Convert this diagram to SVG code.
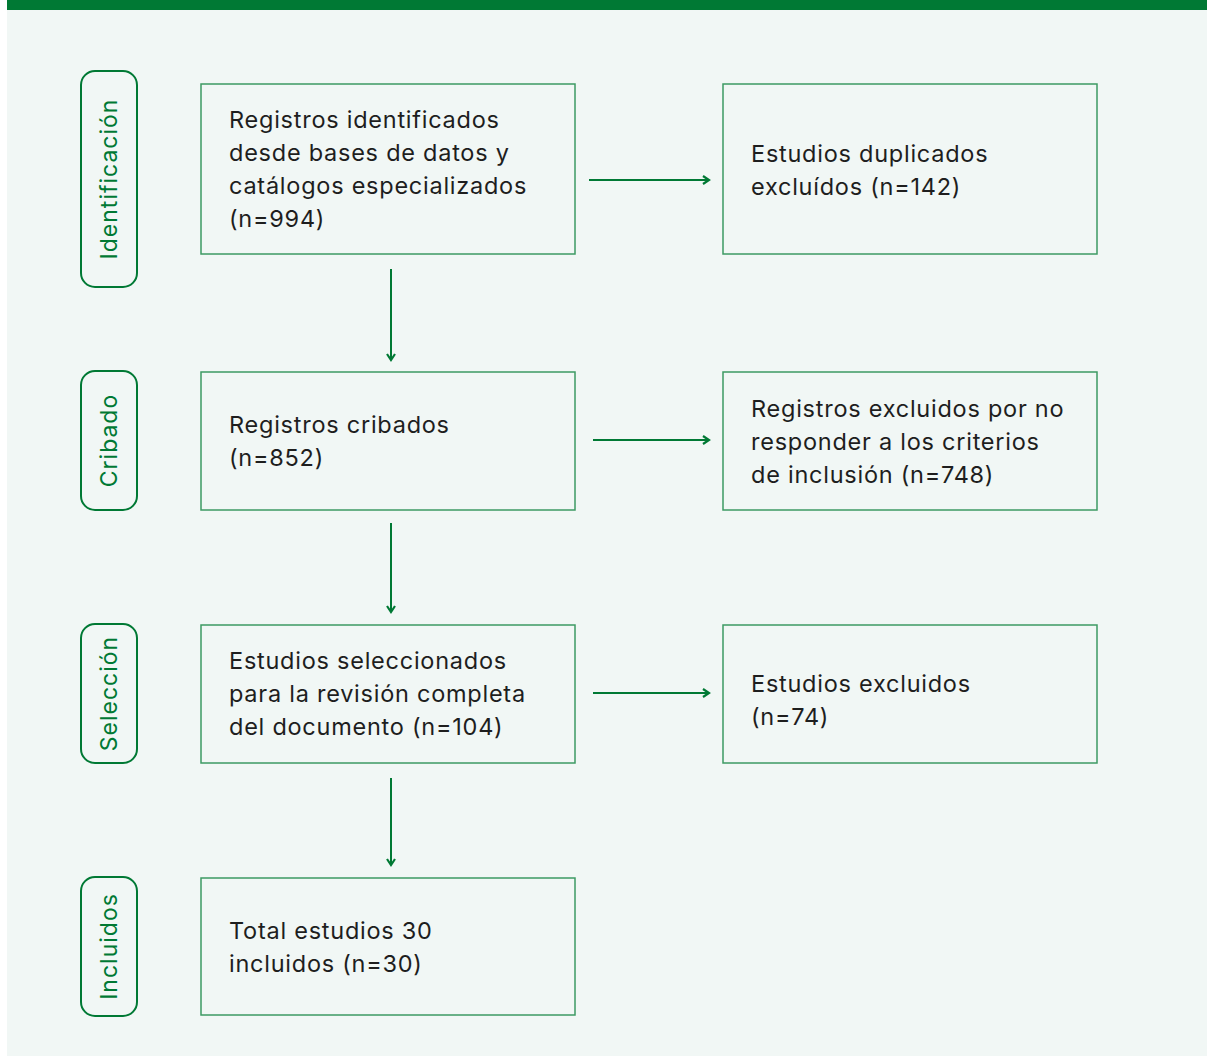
<svg xmlns="http://www.w3.org/2000/svg" width="1207" height="1056" viewBox="0 0 1207 1056">
<defs>
<style>
.box{fill:none;stroke:#3d9a63;stroke-width:1.5}
.pill{fill:none;stroke:#007934;stroke-width:2}
.t{font-family:Inter,"Noto Sans",sans-serif;font-size:23.5px;letter-spacing:0.75px;fill:#1e1e1e}
.lab{font-family:Inter,"Noto Sans",sans-serif;font-size:23px;letter-spacing:1px;fill:#007934;text-anchor:middle;dominant-baseline:central}
.con{stroke:#007934;stroke-width:2;fill:none}
</style>
<marker id="ah" viewBox="0 0 10 10" refX="8" refY="5" markerWidth="10" markerHeight="10" markerUnits="userSpaceOnUse" orient="auto">
<path d="M2,1 L8,5 L2,9" fill="none" stroke="#007934" stroke-width="2.2"/>
</marker>
</defs>
<rect x="0" y="0" width="1207" height="1056" fill="#ffffff"/>
<rect x="7" y="0" width="1200" height="1056" fill="#f1f7f5"/>
<rect x="7" y="0" width="1200" height="10" fill="#007934"/>

<g id="label-identificacion"><rect class="pill" x="81" y="71" width="56" height="216" rx="14"/><text class="lab" transform="translate(109,179) rotate(-90)">Identificación</text></g>
<g id="label-cribado"><rect class="pill" x="81" y="371" width="56" height="139" rx="14"/><text class="lab" transform="translate(109,440.5) rotate(-90)">Cribado</text></g>
<g id="label-seleccion"><rect class="pill" x="81" y="624" width="56" height="139" rx="14"/><text class="lab" transform="translate(109,693.5) rotate(-90)">Selección</text></g>
<g id="label-incluidos"><rect class="pill" x="81" y="877" width="56" height="139" rx="14"/><text class="lab" transform="translate(109,946.5) rotate(-90)">Incluidos</text></g>

<g id="n1"><rect class="box" x="201" y="84" width="374" height="170"/><text class="t"><tspan x="229" y="128">Registros identificados</tspan><tspan x="229" y="161">desde bases de datos y</tspan><tspan x="229" y="194">catálogos especializados</tspan><tspan x="229" y="227">(n=994)</tspan></text></g>
<g id="n2"><rect class="box" x="723" y="84" width="374" height="170"/><text class="t"><tspan x="751" y="162">Estudios duplicados</tspan><tspan x="751" y="195">excluídos (n=142)</tspan></text></g>
<g id="n3"><rect class="box" x="201" y="372" width="374" height="138"/><text class="t"><tspan x="229" y="433">Registros cribados</tspan><tspan x="229" y="466">(n=852)</tspan></text></g>
<g id="n4"><rect class="box" x="723" y="372" width="374" height="138"/><text class="t"><tspan x="751" y="417">Registros excluidos por no</tspan><tspan x="751" y="450">responder a los criterios</tspan><tspan x="751" y="483">de inclusión (n=748)</tspan></text></g>
<g id="n5"><rect class="box" x="201" y="625" width="374" height="138"/><text class="t"><tspan x="229" y="669">Estudios seleccionados</tspan><tspan x="229" y="702">para la revisión completa</tspan><tspan x="229" y="735">del documento (n=104)</tspan></text></g>
<g id="n6"><rect class="box" x="723" y="625" width="374" height="138"/><text class="t"><tspan x="751" y="692">Estudios excluidos</tspan><tspan x="751" y="725">(n=74)</tspan></text></g>
<g id="n7"><rect class="box" x="201" y="878" width="374" height="137"/><text class="t"><tspan x="229" y="939">Total estudios 30</tspan><tspan x="229" y="972">incluidos (n=30)</tspan></text></g>

<g id="connectors">
<line class="con" x1="391" y1="269" x2="391" y2="360" marker-end="url(#ah)"/>
<line class="con" x1="391" y1="523" x2="391" y2="612" marker-end="url(#ah)"/>
<line class="con" x1="391" y1="778" x2="391" y2="865" marker-end="url(#ah)"/>
<line class="con" x1="589" y1="180" x2="709" y2="180" marker-end="url(#ah)"/>
<line class="con" x1="593" y1="440" x2="709" y2="440" marker-end="url(#ah)"/>
<line class="con" x1="593" y1="693" x2="709" y2="693" marker-end="url(#ah)"/>
</g>
</svg>
